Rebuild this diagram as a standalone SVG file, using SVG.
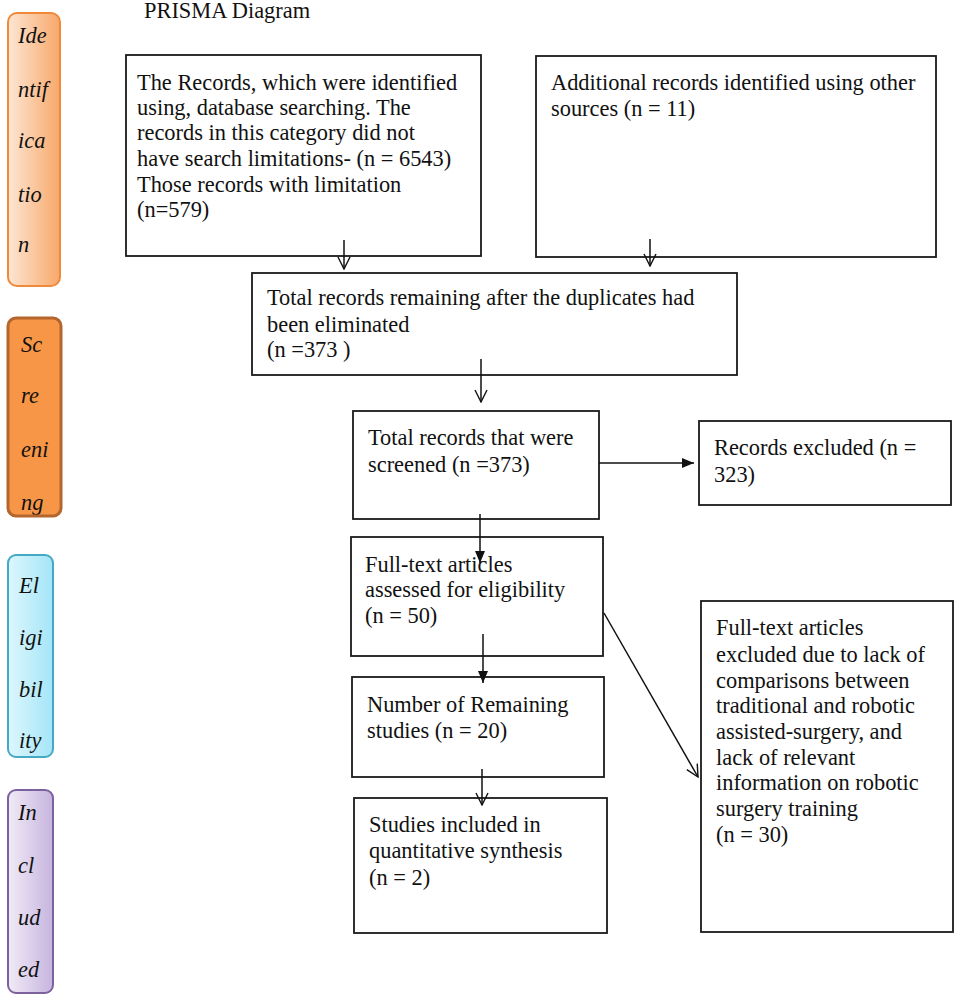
<svg xmlns="http://www.w3.org/2000/svg" width="957" height="1004" viewBox="0 0 957 1004">
<style>
.box{fill:#fff;stroke:#1a1a1a;stroke-width:1.8}
.t{font-family:"Liberation Serif","Times New Roman",serif;font-size:22.4px;fill:#111}
.s{font-family:"Liberation Serif","Times New Roman",serif;font-size:22.4px;font-style:italic;fill:#111}
.c{fill:none;stroke:#111;stroke-width:1.5}
</style>
<defs>
<linearGradient id="gId" x1="0" y1="0" x2="1" y2="0"><stop offset="0" stop-color="#fde6d3"/><stop offset="1" stop-color="#f8a86a"/></linearGradient>
<linearGradient id="gEl" x1="0" y1="0" x2="1" y2="0"><stop offset="0" stop-color="#dcf7fe"/><stop offset="1" stop-color="#a4e5f7"/></linearGradient>
<linearGradient id="gIn" x1="0" y1="0" x2="1" y2="0"><stop offset="0" stop-color="#f1ebf7"/><stop offset="1" stop-color="#c6b4de"/></linearGradient>
<marker id="open" viewBox="0 0 14 14" refX="13" refY="7" markerWidth="14" markerHeight="14" markerUnits="userSpaceOnUse" orient="auto"><path d="M1,1 L13,7 L1,13" fill="none" stroke="#111" stroke-width="1.4"/></marker>
<marker id="fill" viewBox="0 0 12 10" refX="12" refY="5" markerWidth="12" markerHeight="10" markerUnits="userSpaceOnUse" orient="auto"><path d="M0,0 L12,5 L0,10 Z" fill="#111"/></marker>
<clipPath id="scClip"><rect x="8" y="318" width="53" height="197"/></clipPath>
</defs>
<rect width="957" height="1004" fill="#fff"/>
<text class="t" x="144" y="18">PRISMA Diagram</text>

<g id="stage-identification">
<rect x="8" y="13" width="52" height="273" rx="9" fill="url(#gId)" stroke="#f08a3a" stroke-width="2"/>
<text class="s" x="18" y="43">Ide</text>
<text class="s" x="18" y="97">ntif</text>
<text class="s" x="18" y="148">ica</text>
<text class="s" x="18" y="202">tio</text>
<text class="s" x="18" y="252">n</text>
</g>
<g id="stage-screening">
<g clip-path="url(#scClip)">
<rect x="8" y="318" width="53" height="198" rx="8" fill="#f79646"/>
<text class="s" x="21" y="352">Sc</text>
<text class="s" x="21" y="403">re</text>
<text class="s" x="21" y="457">eni</text>
<text class="s" x="21" y="510">ng</text>
</g>
<rect x="8" y="318" width="53" height="198" rx="8" fill="none" stroke="#b5662c" stroke-width="3"/>
</g>
<g id="stage-eligibility">
<rect x="8" y="555" width="45" height="202" rx="8" fill="url(#gEl)" stroke="#45a9c4" stroke-width="2"/>
<text class="s" x="19" y="593">El</text>
<text class="s" x="19" y="645">igi</text>
<text class="s" x="19" y="697">bil</text>
<text class="s" x="19" y="748">ity</text>
</g>
<g id="stage-included">
<rect x="8" y="790" width="45" height="203" rx="8" fill="url(#gIn)" stroke="#7c619e" stroke-width="2"/>
<text class="s" x="18" y="820">In</text>
<text class="s" x="18" y="873">cl</text>
<text class="s" x="18" y="925">ud</text>
<text class="s" x="18" y="977">ed</text>
</g>

<g id="n-records">
<rect class="box" x="126" y="55" width="355" height="201"/>
<text class="t" x="137" y="90">The Records, which were identified</text>
<text class="t" x="137" y="115">using, database searching. The</text>
<text class="t" x="137" y="140">records in this category did not</text>
<text class="t" x="137" y="166">have search limitations- (n = 6543)</text>
<text class="t" x="137" y="192">Those records with limitation</text>
<text class="t" x="137" y="217">(n=579)</text>
</g>
<g id="n-additional">
<rect class="box" x="536" y="56" width="400" height="201"/>
<text class="t" x="551" y="90">Additional records identified using other</text>
<text class="t" x="551" y="116">sources (n = 11)</text>
</g>
<g id="n-dedup">
<rect class="box" x="252" y="273" width="485" height="102"/>
<text class="t" x="267" y="305">Total records remaining after the duplicates had</text>
<text class="t" x="267" y="332">been eliminated</text>
<text class="t" x="267" y="357">(n =373 )</text>
</g>
<g id="n-screened">
<rect class="box" x="353" y="411" width="246" height="108"/>
<text class="t" x="368" y="445">Total records that were</text>
<text class="t" x="368" y="472">screened (n =373)</text>
</g>
<g id="n-excluded">
<rect class="box" x="699" y="421" width="252" height="84"/>
<text class="t" x="714" y="455">Records excluded (n =</text>
<text class="t" x="714" y="482">323)</text>
</g>
<g id="n-fulltext">
<rect class="box" x="351" y="537" width="252" height="119"/>
<text class="t" x="365" y="572">Full-text articles</text>
<text class="t" x="365" y="597">assessed for eligibility</text>
<text class="t" x="365" y="623">(n = 50)</text>
</g>
<g id="n-remaining">
<rect class="box" x="352" y="677" width="252" height="100"/>
<text class="t" x="367" y="712">Number of Remaining</text>
<text class="t" x="367" y="738">studies (n = 20)</text>
</g>
<g id="n-included">
<rect class="box" x="354" y="798" width="253" height="135"/>
<text class="t" x="369" y="832">Studies included in</text>
<text class="t" x="369" y="858">quantitative synthesis</text>
<text class="t" x="369" y="885">(n = 2)</text>
</g>
<g id="n-ft-excluded">
<rect class="box" x="701" y="601" width="252" height="331"/>
<text class="t" x="716" y="635">Full-text articles</text>
<text class="t" x="716" y="662">excluded due to lack of</text>
<text class="t" x="716" y="688">comparisons between</text>
<text class="t" x="716" y="713">traditional and robotic</text>
<text class="t" x="716" y="739">assisted-surgery, and</text>
<text class="t" x="716" y="765">lack of relevant</text>
<text class="t" x="716" y="790">information on robotic</text>
<text class="t" x="716" y="816">surgery training</text>
<text class="t" x="716" y="842">(n = 30)</text>
</g>

<g id="connectors">
<line class="c" x1="344" y1="240" x2="344" y2="269" marker-end="url(#open)"/>
<line class="c" x1="650" y1="239" x2="650" y2="266" marker-end="url(#open)"/>
<line class="c" x1="481" y1="359" x2="481" y2="402" marker-end="url(#open)"/>
<line class="c" x1="599" y1="463" x2="694" y2="463" marker-end="url(#fill)"/>
<line class="c" x1="480" y1="514" x2="480" y2="563" marker-end="url(#fill)"/>
<line class="c" x1="483" y1="634" x2="483" y2="683" marker-end="url(#fill)"/>
<line class="c" x1="482" y1="769" x2="482" y2="805" marker-end="url(#open)"/>
<line class="c" x1="604" y1="613" x2="698" y2="777" marker-end="url(#open)"/>
</g>
</svg>
